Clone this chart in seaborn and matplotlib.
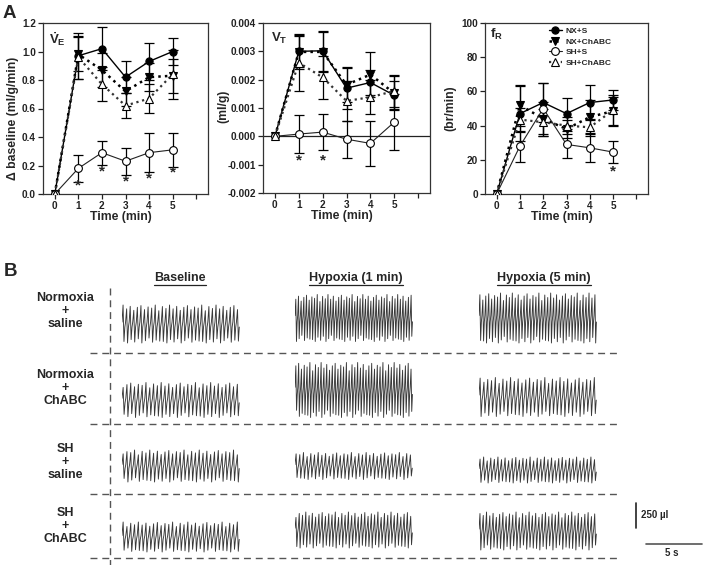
import numpy as np
import pandas as pd
import matplotlib
matplotlib.use("Agg")
import matplotlib.pyplot as plt
import seaborn as sns

sns.set_style("ticks")
plt.rcParams['font.family'] = ['Liberation Sans', 'DejaVu Sans']
plt.rcParams['font.weight'] = 'bold'
plt.rcParams['mathtext.fontset'] = 'custom'
plt.rcParams['mathtext.rm'] = 'Liberation Sans:bold'
plt.rcParams['mathtext.bf'] = 'Liberation Sans:bold'
plt.rcParams['mathtext.it'] = 'Liberation Sans:bold'

# ------------------------------------------------------------------ data (A)
TIME = [0, 1, 2, 3, 4, 5]
GROUPS = ["NX+S", "NX+ChABC", "SH+S", "SH+ChABC"]

VE_MEAN = {"NX+S":     [0, 0.97, 1.02, 0.82, 0.93, 1.00],
           "NX+ChABC": [0, 0.98, 0.87, 0.72, 0.82, 0.83],
           "SH+S":     [0, 0.18, 0.29, 0.23, 0.29, 0.31],
           "SH+ChABC": [0, 0.96, 0.77, 0.62, 0.67, 0.84]}
VE_SEM = {"NX+S":     [0, 0.16, 0.15, 0.11, 0.13, 0.095],
          "NX+ChABC": [0, 0.12, 0.12, 0.10, 0.10, 0.12],
          "SH+S":     [0, 0.095, 0.085, 0.095, 0.135, 0.12],
          "SH+ChABC": [0, 0.15, 0.12, 0.09, 0.10, 0.17]}
VE_STAR_T = [1, 2, 3, 4, 5]
VE_STAR_Y = [0.06, 0.155, 0.085, 0.11, 0.15]

VT_MEAN = {"NX+S":     [0, 0.0030, 0.00302, 0.0017, 0.0019, 0.00145],
           "NX+ChABC": [0, 0.00298, 0.00298, 0.00182, 0.00218, 0.00152],
           "SH+S":     [0, 0.00008, 0.00015, -0.0001, -0.00025, 0.0005],
           "SH+ChABC": [0, 0.0026, 0.00208, 0.00125, 0.00138, 0.0016]}
VT_SEM = {"NX+S":     [0, 0.00055, 0.0007, 0.00075, 0.00045, 0.0005],
          "NX+ChABC": [0, 0.0006, 0.0007, 0.0006, 0.0008, 0.0006],
          "SH+S":     [0, 0.00068, 0.00063, 0.00065, 0.0008, 0.00098],
          "SH+ChABC": [0, 0.001, 0.00075, 0.00072, 0.0006, 0.00055]}
VT_STAR_T = [1, 2]
VT_STAR_Y = [-0.00085, -0.00085]

FR_MEAN = {"NX+S":     [0, 47, 53.5, 47, 53.5, 55],
           "NX+ChABC": [0, 52, 44, 38, 45, 48.5],
           "SH+S":     [0, 28, 50, 29, 27, 24.5],
           "SH+ChABC": [0, 43.5, 42, 40, 39, 49]}
FR_SEM = {"NX+S":     [0, 16, 11.5, 9, 10, 6],
          "NX+ChABC": [0, 12, 10, 5, 10, 8],
          "SH+S":     [0, 9, 15, 8, 8.5, 6.5],
          "SH+ChABC": [0, 7, 8, 5, 5, 9]}
FR_STAR_T = [5]
FR_STAR_Y = [13]

# ------------------------------------------------------------------ data (B)
ROW_LABELS = ["Normoxia\n+\nsaline", "Normoxia\n+\nChABC", "SH\n+\nsaline", "SH\n+\nChABC"]
COL_LABELS = ["Baseline", "Hypoxia (1 min)", "Hypoxia (5 min)"]
TRACE_BREATHS = [[33, 44, 40], [31, 42, 31], [31, 32, 33], [31, 36, 36]]   # breaths per trace
TRACE_AMP = [[380, 470, 500], [350, 550, 390], [320, 270, 260], [300, 360, 380]]  # peak-to-peak, µl
TRACE_DUR = 10.5   # s
TOP_PATTERN = [1.00, 0.80, 0.93, 0.72, 0.88, 0.97, 0.76, 0.90, 0.84, 1.00, 0.70, 0.92, 0.82]
BOT_PATTERN = [0.92, 1.00, 0.82, 0.95, 0.78, 1.00, 0.88, 0.74, 0.96, 0.85, 0.90]
SCALE_UL = 250
SCALE_S = 5

# ------------------------------------------------------------------ figure
W, H = 703, 565
fig = plt.figure(figsize=(W / 100, H / 100), dpi=100)
fig.patch.set_facecolor('white')


def px_axes(l, t, r, b, **kw):
    return fig.add_axes([l / W, 1 - b / H, (r - l) / W, (b - t) / H], **kw)


STYLE = {
    "NX+S":     dict(color='black', ls='-', lw=1.0, marker='o', mfc='black', ms=5.2),
    "NX+ChABC": dict(color='black', ls=':', lw=1.8, marker='v', mfc='black', ms=5.8),
    "SH+S":     dict(color='#222222', ls='-', lw=0.8, marker='o', mfc='white', ms=5.6),
    "SH+ChABC": dict(color='#333333', ls=':', lw=1.6, marker='^', mfc='white', ms=5.8),
}


def draw_panel(ax, means, sems, star_t, star_y, ylim, yticks, fmt, ylabel, ylab_x, ylab_y, inner, inner_xy):
    for g in GROUPS:
        ax.errorbar(TIME[1:], means[g][1:], yerr=sems[g][1:], fmt='none', ecolor='black',
                    elinewidth=0.9, capsize=3.5, capthick=0.9, zorder=2)
    for g in GROUPS:
        st = STYLE[g]
        df = pd.DataFrame({"t": TIME, "v": means[g]})
        sns.lineplot(data=df, x="t", y="v", ax=ax, estimator=None, sort=False,
                     color=st['color'], linestyle=st['ls'], linewidth=st['lw'],
                     marker=st['marker'], markersize=st['ms'],
                     markerfacecolor=st['mfc'], markeredgecolor='black',
                     markeredgewidth=0.8, label=g, zorder=3, legend=False)
    for t, y in zip(star_t, star_y):
        ax.text(t, y, '*', ha='center', va='center', fontsize=11, fontweight='bold')
    ax.set_xlim(-0.5, 6.5)
    ax.set_ylim(*ylim)
    ax.set_xticks(range(7))
    ax.set_xticklabels(['0', '1', '2', '3', '4', '5', ''])
    ax.set_yticks(yticks)
    ax.set_yticklabels([fmt.format(v) for v in yticks])
    ax.tick_params(direction='out', length=3.5, width=0.9, labelsize=7.2, pad=1.5, colors='#222222')
    for s in ax.spines.values():
        s.set_linewidth(0.9)
        s.set_color('#333333')
        s.set_visible(True)
    ax.set_xlabel('Time (min)', fontsize=8.8, fontweight='bold')
    ax.xaxis.set_label_coords(0.47, -0.135)
    ax.xaxis.label.set_va('center')
    ax.set_ylabel(ylabel, fontsize=8.8, fontweight='bold')
    ax.yaxis.set_label_coords(ylab_x, ylab_y)
    ax.yaxis.label.set_va('center')
    ax.text(inner_xy[0], inner_xy[1], inner, transform=ax.transAxes, ha='left',
            va='baseline', fontsize=9.5, fontweight='bold')


ax1 = px_axes(43, 23, 208, 194)
draw_panel(ax1, VE_MEAN, VE_SEM, VE_STAR_T, VE_STAR_Y, (0, 1.2),
           [0, 0.2, 0.4, 0.6, 0.8, 1.0, 1.2], "{:.1f}", "\u0394 baseline (ml/g/min)",
           -0.182, 0.44, r'$\dot{\mathbf{V}}_{\mathbf{E}}$', (0.036, 0.875))

ax2 = px_axes(263, 23, 430, 193)
ax2.axhline(0, color='#222222', lw=0.9, zorder=1)
draw_panel(ax2, VT_MEAN, VT_SEM, VT_STAR_T, VT_STAR_Y, (-0.002, 0.004),
           [-0.002, -0.001, 0.0, 0.001, 0.002, 0.003, 0.004], "{:.3f}", "(ml/g)",
           -0.24, 0.51, r'$\mathbf{V}_{\mathbf{T}}$', (0.05, 0.89))

ax3 = px_axes(485, 23, 648, 194)
draw_panel(ax3, FR_MEAN, FR_SEM, FR_STAR_T, FR_STAR_Y, (0, 100),
           [0, 20, 40, 60, 80, 100], "{:.0f}", "(br/min)",
           -0.215, 0.5, r'$\mathbf{f}_{\mathbf{R}}$', (0.03, 0.91))
ax3.legend(loc='upper left', bbox_to_anchor=(0.39, 0.975), frameon=False,
           fontsize=6, handlelength=1.6, labelspacing=0.32, handletextpad=0.4,
           borderaxespad=0, borderpad=0)

# ------------------------------------------------------------------ overlay for panel B
ov = fig.add_axes([0, 0, 1, 1], zorder=0)
ov.set_xlim(0, W)
ov.set_ylim(H, 0)
ov.axis('off')
ov.patch.set_visible(False)

ov.text(3, 13, 'A', fontsize=13.5, fontweight='bold', ha='left', va='center')
ov.text(4, 272, 'B', fontsize=13.5, fontweight='bold', ha='left', va='center')

COL_X0 = [122, 295, 479]
COL_CX = [180, 356, 544]
TRACE_W = 118
ROW_CY = [311, 388, 462, 526]
TRACE_CY = [[324, 318, 318], [400, 390, 397], [466, 466, 470], [537, 530, 531]]
HLINE_Y = [353, 424, 494, 558]
PX_PER_S = TRACE_W / TRACE_DUR
PX_PER_UL = 0.1

dash_kw = dict(color='#555555', lw=1.0, dashes=(5, 3.5))
ov.plot([110, 110], [288, H], **dash_kw)
for y in HLINE_Y:
    ov.plot([90, 617], [y, y], **dash_kw)

for lab, y in zip(ROW_LABELS, ROW_CY):
    ov.text(65, y, lab, ha='center', va='center', fontsize=9, fontweight='bold',
            linespacing=1.15)

hdrs = []
for lab, x in zip(COL_LABELS, COL_CX):
    hdrs.append(ov.text(x, 278, lab, ha='center', va='center', fontsize=9, fontweight='bold'))

# traces
for r in range(4):
    for c in range(3):
        n = TRACE_BREATHS[r][c]
        amp = TRACE_AMP[r][c]
        T = TRACE_DUR / n
        ts, vs = [], []
        for k in range(n):
            t0 = k * T
            top = amp / 2 * TOP_PATTERN[(k + 3 * r + c) % len(TOP_PATTERN)]
            bot = amp / 2 * BOT_PATTERN[(k + 2 * r + 5 * c) % len(BOT_PATTERN)]
            ts += [t0, t0 + 0.3 * T, t0 + 0.55 * T, t0 + 0.8 * T]
            vs += [0.05 * amp, top, -bot, -0.08 * amp]
        df = pd.DataFrame({"t": ts, "v": vs})
        half = 45
        cy = TRACE_CY[r][c]
        tax = px_axes(COL_X0[c], cy - half, COL_X0[c] + TRACE_W, cy + half)
        tax.axis('off')
        tax.patch.set_visible(False)
        sns.lineplot(data=df, x="t", y="v", ax=tax, estimator=None, sort=False,
                     color='#383838', linewidth=0.65)
        tax.set_xlim(0, TRACE_DUR)
        tax.set_ylim(-half / PX_PER_UL, half / PX_PER_UL)

# scale bars
sb_h = SCALE_UL * PX_PER_UL
sb_w = SCALE_S * PX_PER_S
ov.plot([636, 636], [528 - sb_h, 528], color='#222222', lw=1.2)
ov.text(641, 515, '250 \u00b5l', ha='left', va='center', fontsize=7, fontweight='bold')
ov.plot([702 - sb_w, 702], [544, 544], color='#555555', lw=1.2)
ov.text(672, 553, '5 s', ha='center', va='center', fontsize=7, fontweight='bold')

# underline headers
fig.canvas.draw()
rend = fig.canvas.get_renderer()
inv = ov.transData.inverted()
for t in hdrs:
    bb = t.get_window_extent(rend)
    (x0, y0), (x1, y1) = inv.transform([(bb.x0, bb.y0), (bb.x1, bb.y1)])
    ov.plot([x0, x1], [y0 + 0.5, y0 + 0.5], color='#222222', lw=0.9)

fig.savefig('out.png', dpi=100)
